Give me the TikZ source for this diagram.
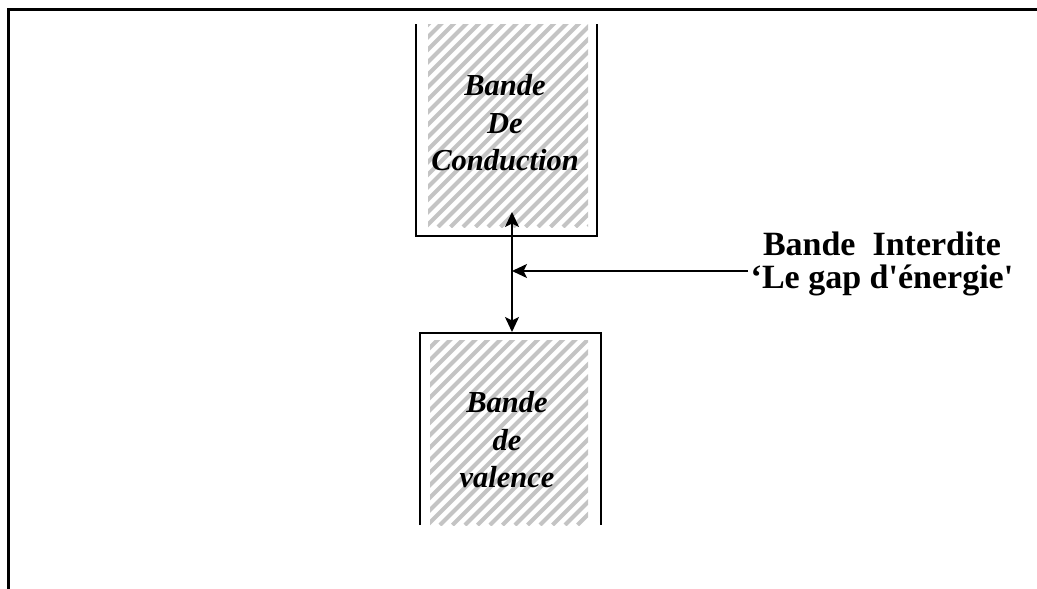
\documentclass[tikz,border=0pt]{standalone}
\usepackage{fontspec}
\setmainfont{Liberation Serif}
\usetikzlibrary{arrows.meta}
\definecolor{hatchgray}{RGB}{196,196,196}
\tikzset{
  frameline/.style={line width=3pt},
  bandedge/.style={line width=2.2pt},
  hatchline/.style={hatchgray, line width=4.2pt},
  bandtext/.style={align=center, font=\fontsize{30.5}{37.5}\selectfont\bfseries\itshape, inner sep=0pt},
  gaptext/.style={align=center, font=\fontsize{34}{33}\selectfont\bfseries, inner sep=0pt},
  gaparrow/.style={line width=1.8pt, -{Stealth[length=15pt,width=14pt,inset=3.5pt]}},
  gapdouble/.style={line width=1.8pt, {Stealth[length=15pt,width=14pt,inset=3.5pt]}-{Stealth[length=15pt,width=14pt,inset=3.5pt]}}
}
\begin{document}
\begin{tikzpicture}[x=1pt,y=-1pt]
\useasboundingbox (0,0) rectangle (1037,589);
% outer frame
\draw[frameline] (8,589) -- (8,9) -- (1037,9);

% conduction band hatching
\begin{scope}
  \clip (428,24) rectangle (588,227);
  \foreach \i in {-240,-227.5,...,200} {
    \draw[hatchline] (428+\i,227) -- ++(240,-240);
  }
\end{scope}
% valence band hatching
\begin{scope}
  \clip (430,340) rectangle (588,525);
  \foreach \i in {-240,-227.5,...,200} {
    \draw[hatchline] (430+\i,525) -- ++(240,-240);
  }
\end{scope}

% band outlines
\coordinate (cbTL) at (416,24);
\coordinate (cbBL) at (416,236);
\coordinate (cbBR) at (597,236);
\coordinate (cbTR) at (597,24);
\draw[bandedge] (cbTL) -- (cbBL) -- (cbBR) -- (cbTR);
\coordinate (vbBL) at (420,525);
\coordinate (vbTL) at (420,333);
\coordinate (vbTR) at (601,333);
\coordinate (vbBR) at (601,525);
\draw[bandedge] (vbBL) -- (vbTL) -- (vbTR) -- (vbBR);

% band labels
\node[bandtext] (cbtext) at (505,123) {Bande\\De\\Conduction};
\node[bandtext] (vbtext) at (507,440) {Bande\\de\\valence};

% gap label
\node[gaptext] (gaptxt) at (882,264) {Bande\hspace{0.5em}Interdite\\`Le gap d\textquotesingle énergie\textquotesingle};

% arrows
\coordinate (gapTop) at (512,212);
\coordinate (gapBot) at (512,332);
\coordinate (gapMid) at (512,271);
\coordinate (gapFrom) at (748,271);
\draw[gapdouble] (gapTop) -- (gapBot);
\draw[gaparrow] (gapFrom) -- (gapMid);
\end{tikzpicture}
\end{document}
